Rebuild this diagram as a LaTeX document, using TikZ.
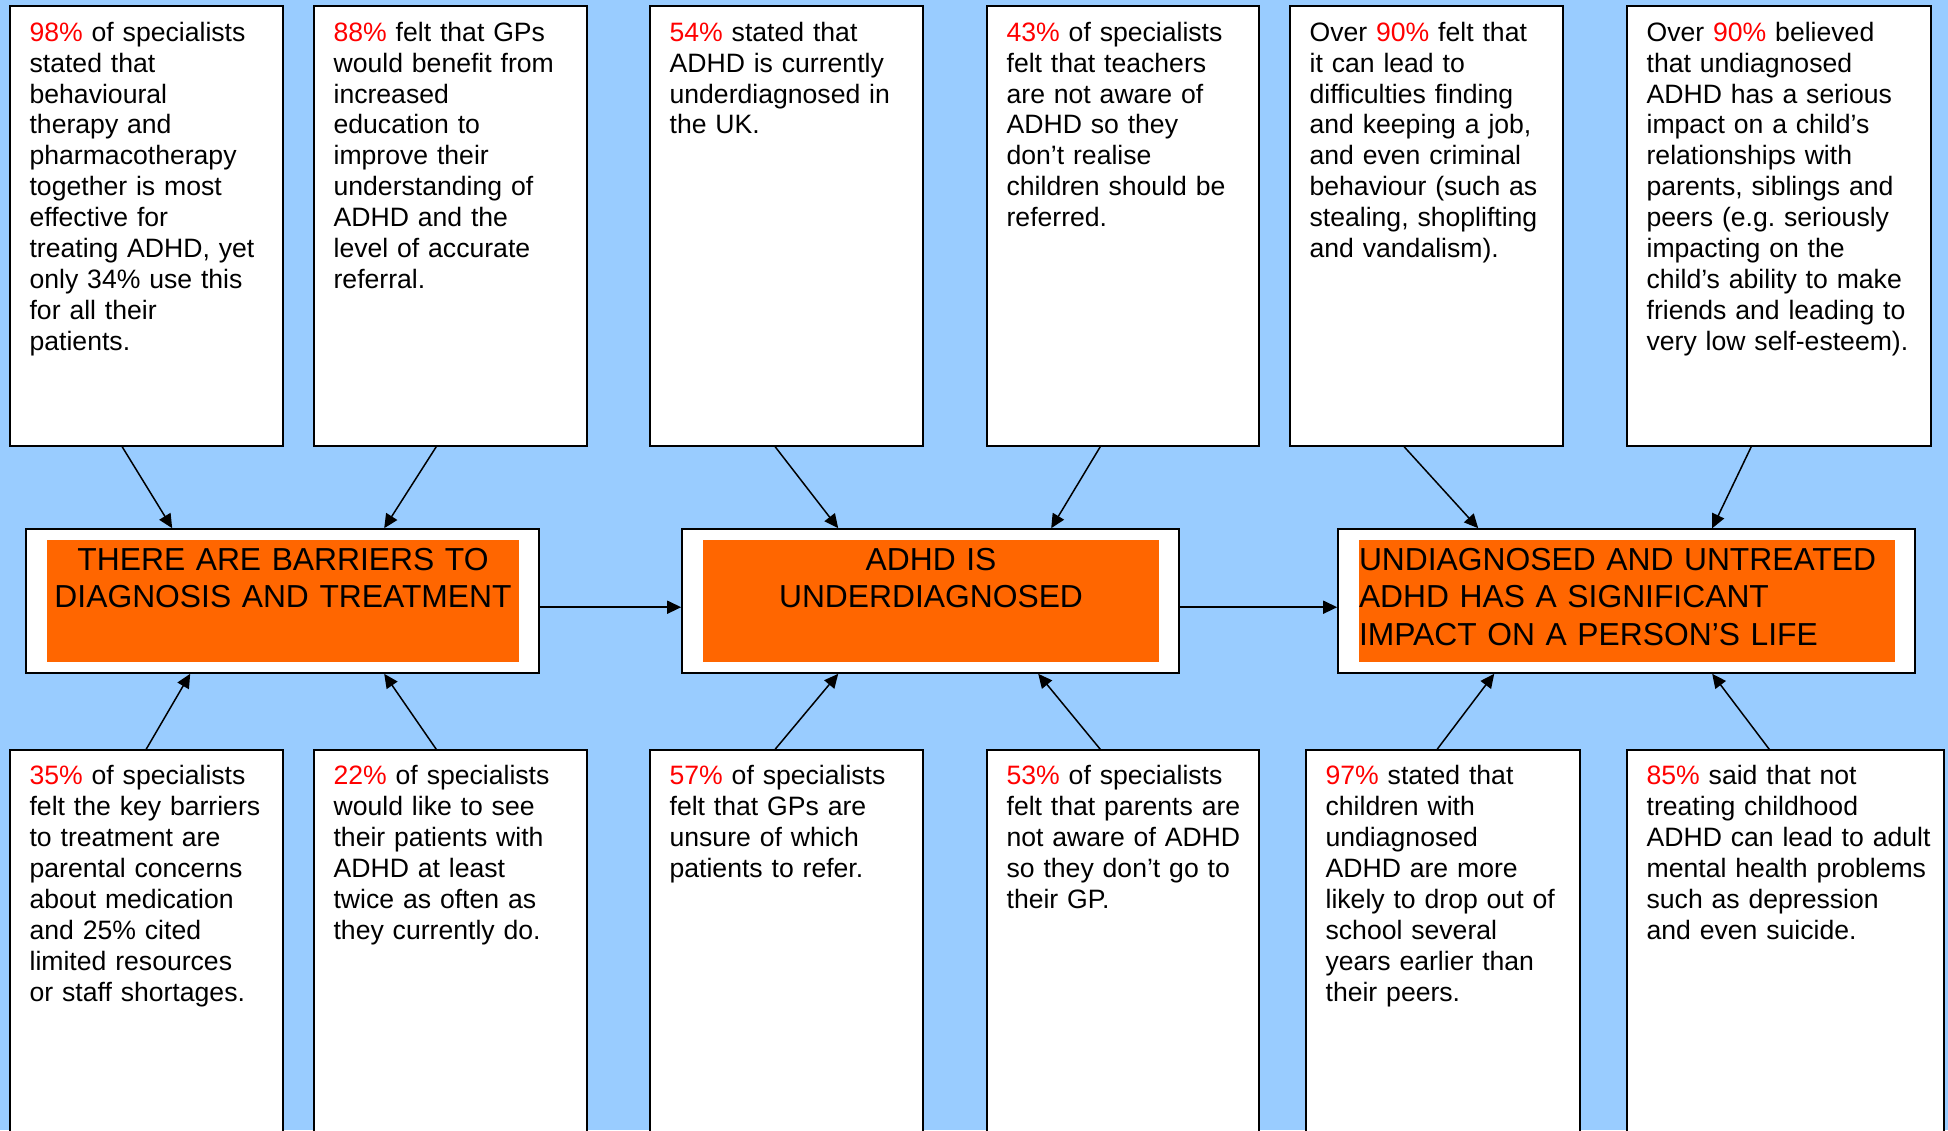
\documentclass[tikz,border=0pt]{standalone}
\usepackage{fontspec}
\setmainfont{Liberation Sans}[Ligatures=NoCommon]
\usetikzlibrary{arrows.meta,fit,calc}
\definecolor{bgblue}{HTML}{99CCFF}
\definecolor{boxorange}{HTML}{FF6600}
\definecolor{pcred}{HTML}{FF0000}
\newcommand\pc[1]{\textcolor{pcred}{#1}}
\frenchspacing
\tikzset{
  card/.style={draw=black, fill=white, line width=0.8pt, inner sep=0pt},
  panel/.style={fill=boxorange, draw=none, inner sep=0pt},
  bodytxt/.style={anchor=base west, inner sep=0pt, align=left, text width=#1,
    font=\fontsize{13.3pt}{15.45pt}\selectfont},
  titlec/.style={anchor=base, inner sep=0pt, align=center, text width=#1,
    font=\fontsize{15.9pt}{18.75pt}\selectfont},
  titlel/.style={anchor=base west, inner sep=0pt, align=left, text width=#1,
    font=\fontsize{15.9pt}{18.75pt}\selectfont},
  arr/.style={line width=0.75pt, -{Triangle[length=7pt,width=6.5pt]}}
}
\begin{document}
\begin{tikzpicture}[x=0.5pt,y=-0.5pt]
\clip (0,0) rectangle (1948,1130);
\fill[bgblue] (0,0) rectangle (1948,1130);

% ---------- top cards ----------
\path (10,6) coordinate (t1a) (283,446) coordinate (t1b)
      (314,6) coordinate (t2a) (587,446) coordinate (t2b)
      (650,6) coordinate (t3a) (923,446) coordinate (t3b)
      (987,6) coordinate (t4a) (1259,446) coordinate (t4b)
      (1290,6) coordinate (t5a) (1563,446) coordinate (t5b)
      (1627,6) coordinate (t6a) (1931,446) coordinate (t6b);
\node[card, fit=(t1a)(t1b)] (t1) {};
\node[card, fit=(t2a)(t2b)] (t2) {};
\node[card, fit=(t3a)(t3b)] (t3) {};
\node[card, fit=(t4a)(t4b)] (t4) {};
\node[card, fit=(t5a)(t5b)] (t5) {};
\node[card, fit=(t6a)(t6b)] (t6) {};

\node[bodytxt=125pt] (t1t) at ($(t1.north west)+(20,36)$) {\pc{98\%} of specialists\\stated that\\behavioural\\therapy and\\pharmacotherapy\\together is most\\effective for\\treating ADHD, yet\\only 34\% use this\\for all their\\patients.};
\node[bodytxt=125pt] (t2t) at ($(t2.north west)+(20,36)$) {\pc{88\%} felt that GPs\\would benefit from\\increased\\education to\\improve their\\understanding of\\ADHD and the\\level of accurate\\referral.};
\node[bodytxt=125pt] (t3t) at ($(t3.north west)+(20,36)$) {\pc{54\%} stated that\\ADHD is currently\\underdiagnosed in\\the UK.};
\node[bodytxt=125pt] (t4t) at ($(t4.north west)+(20,36)$) {\pc{43\%} of specialists\\felt that teachers\\are not aware of\\ADHD so they\\don’t realise\\children should be\\referred.};
\node[bodytxt=125pt] (t5t) at ($(t5.north west)+(20,36)$) {Over \pc{90\%} felt that\\it can lead to\\difficulties finding\\and keeping a job,\\and even criminal\\behaviour (such as\\stealing, shoplifting\\and vandalism).};
\node[bodytxt=140pt] (t6t) at ($(t6.north west)+(20,36)$) {Over \pc{90\%} believed\\that undiagnosed\\ADHD has a serious\\impact on a child’s\\relationships with\\parents, siblings and\\peers (e.g. seriously\\impacting on the\\child’s ability to make\\friends and leading to\\very low self-esteem).};

% ---------- middle statements ----------
\path (26,529) coordinate (m1a) (539,673) coordinate (m1b)
      (682,529) coordinate (m2a) (1179,673) coordinate (m2b)
      (1338,529) coordinate (m3a) (1915,673) coordinate (m3b)
      (47,540) coordinate (o1a) (519,662) coordinate (o1b)
      (703,540) coordinate (o2a) (1159,662) coordinate (o2b)
      (1359,540) coordinate (o3a) (1895,662) coordinate (o3b);
\node[card, fit=(m1a)(m1b)] (m1) {};
\node[card, fit=(m2a)(m2b)] (m2) {};
\node[card, fit=(m3a)(m3b)] (m3) {};
\node[panel, fit=(o1a)(o1b)] (o1) {};
\node[panel, fit=(o2a)(o2b)] (o2) {};
\node[panel, fit=(o3a)(o3b)] (o3) {};
\node[titlec=236pt] (m1t) at ($(o1.north)+(0,30.5)$) {THERE ARE BARRIERS TO\\DIAGNOSIS AND TREATMENT};
\node[titlec=228pt] (m2t) at ($(o2.north)+(0,30.5)$) {ADHD IS\\UNDERDIAGNOSED};
\node[titlel=268pt] (m3t) at ($(o3.north west)+(0,30.5)$) {UNDIAGNOSED AND UNTREATED\\ADHD HAS A SIGNIFICANT\\IMPACT ON A PERSON’S LIFE};

% ---------- bottom cards ----------
\path (10,750) coordinate (b1a) (283,1160) coordinate (b1b)
      (314,750) coordinate (b2a) (587,1160) coordinate (b2b)
      (650,750) coordinate (b3a) (923,1160) coordinate (b3b)
      (987,750) coordinate (b4a) (1259,1160) coordinate (b4b)
      (1306,750) coordinate (b5a) (1580,1160) coordinate (b5b)
      (1627,750) coordinate (b6a) (1944,1160) coordinate (b6b);
\node[card, fit=(b1a)(b1b)] (b1) {};
\node[card, fit=(b2a)(b2b)] (b2) {};
\node[card, fit=(b3a)(b3b)] (b3) {};
\node[card, fit=(b4a)(b4b)] (b4) {};
\node[card, fit=(b5a)(b5b)] (b5) {};
\node[card, fit=(b6a)(b6b)] (b6) {};

\node[bodytxt=125pt] (b1t) at ($(b1.north west)+(20,35.5)$) {\pc{35\%} of specialists\\felt the key barriers\\to treatment are\\parental concerns\\about medication\\and 25\% cited\\limited resources\\or staff shortages.};
\node[bodytxt=125pt] (b2t) at ($(b2.north west)+(20,35.5)$) {\pc{22\%} of specialists\\would like to see\\their patients with\\ADHD at least\\twice as often as\\they currently do.};
\node[bodytxt=125pt] (b3t) at ($(b3.north west)+(20,35.5)$) {\pc{57\%} of specialists\\felt that GPs are\\unsure of which\\patients to refer.};
\node[bodytxt=125pt] (b4t) at ($(b4.north west)+(20,35.5)$) {\pc{53\%} of specialists\\felt that parents are\\not aware of ADHD\\so they don’t go to\\their GP.};
\node[bodytxt=125pt] (b5t) at ($(b5.north west)+(20,35.5)$) {\pc{97\%} stated that\\children with\\undiagnosed\\ADHD are more\\likely to drop out of\\school several\\years earlier than\\their peers.};
\node[bodytxt=145pt] (b6t) at ($(b6.north west)+(20,35.5)$) {\pc{85\%} said that not\\treating childhood\\ADHD can lead to adult\\mental health problems\\such as depression\\and even suicide.};

% ---------- connectors ----------
\draw[arr] ($(t1.south west)+(113,0)$) -- ($(m1.north west)+(147,0)$);
\draw[arr] ($(t2.south west)+(123,0)$) -- ($(m1.north west)+(359,0)$);
\draw[arr] ($(t3.south west)+(126,0)$) -- ($(m2.north west)+(157,0)$);
\draw[arr] ($(t4.south west)+(114,0)$) -- ($(m2.north west)+(370,0)$);
\draw[arr] ($(t5.south west)+(115,0)$) -- ($(m3.north west)+(141,0)$);
\draw[arr] ($(t6.south west)+(125,0)$) -- ($(m3.north west)+(375,0)$);

\draw[arr] ($(b1.north west)+(137,0)$) -- ($(m1.south west)+(165,0)$);
\draw[arr] ($(b2.north west)+(123,0)$) -- ($(m1.south west)+(359,0)$);
\draw[arr] ($(b3.north west)+(126,0)$) -- ($(m2.south west)+(157,0)$);
\draw[arr] ($(b4.north west)+(114,0)$) -- ($(m2.south west)+(357,0)$);
\draw[arr] ($(b5.north west)+(132,0)$) -- ($(m3.south west)+(157,0)$);
\draw[arr] ($(b6.north west)+(143,0)$) -- ($(m3.south west)+(375,0)$);

\draw[arr] ($(m1.north east)+(0,79)$) -- ($(m2.north west)+(0,79)$);
\draw[arr] ($(m2.north east)+(0,79)$) -- ($(m3.north west)+(0,79)$);
\end{tikzpicture}
\end{document}
